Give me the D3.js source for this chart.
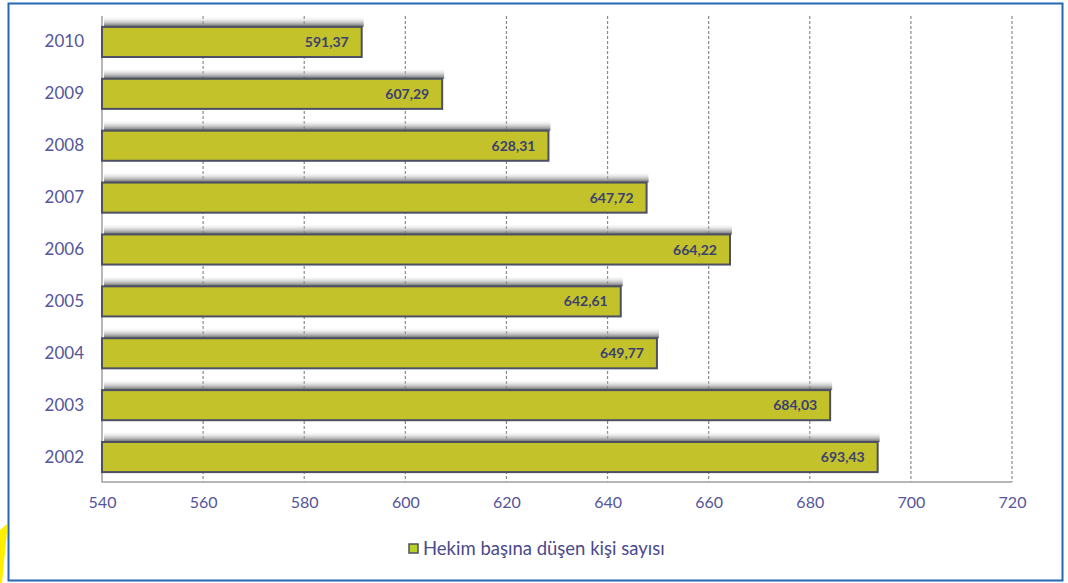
<!DOCTYPE html>
<html><head><meta charset="utf-8">
<script src="https://cdn.jsdelivr.net/npm/d3@7"></script>
<style>body{margin:0;background:#fff;}svg{display:block;}</style>
</head><body>
<script>
const years = ["2010","2009","2008","2007","2006","2005","2004","2003","2002"];
const values = [591.37,607.29,628.31,647.72,664.22,642.61,649.77,684.03,693.43];
const labels = ["591,37","607,29","628,31","647,72","664,22","642,61","649,77","684,03","693,43"];
const xTicks = [540,560,580,600,620,640,660,680,700,720];
const seriesName = "Hekim başına düşen kişi sayısı";

const W=1068,H=583;
const svg=d3.select("body").append("svg").attr("width",W).attr("height",H);
const font="Lato, 'Open Sans', sans-serif";
const labelColor="#55559a";

const defs=svg.append("defs");
const g1=defs.append("linearGradient").attr("id","shadow").attr("x1",0).attr("y1",0).attr("x2",0).attr("y2",1);
g1.append("stop").attr("offset","0%").attr("stop-color","#ffffff").attr("stop-opacity",0);
g1.append("stop").attr("offset","100%").attr("stop-color","#5f5f5f").attr("stop-opacity",1);

const x=d3.scaleLinear().domain([540,720]).range([102,1012]);
const y=d3.scaleBand().domain(years).range([16,483]).paddingInner(0.42).paddingOuter(0.21);

// frame
svg.append("rect").attr("x",8.5).attr("y",3.5).attr("width",1054).attr("height",577)
  .attr("fill","#fff").attr("stroke","#2566b5").attr("stroke-width",2);
svg.append("polygon").attr("points","7,524 7,532 2,583 0,583 0,530").attr("fill","#ffee00");

// grid
svg.append("g").selectAll("line").data(xTicks.slice(1)).join("line")
  .attr("x1",d=>x(d)).attr("x2",d=>x(d)).attr("y1",16).attr("y2",482)
  .attr("stroke","#8a8a8a").attr("stroke-width",1.2).attr("stroke-dasharray","3,2");
// plot floor/left wall
svg.append("path").attr("d",`M${x(540)},16V482H${x(720)}`).attr("fill","none")
  .attr("stroke","#a0a0a0").attr("stroke-width",1.5);

// bar shadows
const bw=y.bandwidth();
svg.append("g").selectAll("rect").data(years).join("rect")
  .attr("x",x(540)+2).attr("y",d=>y(d)-11).attr("width",(d,i)=>x(values[i])-x(540)).attr("height",11)
  .attr("fill","url(#shadow)");

// bars
svg.append("g").selectAll("rect").data(years).join("rect")
  .attr("x",x(540)).attr("y",d=>y(d)).attr("width",(d,i)=>x(values[i])-x(540)).attr("height",bw)
  .attr("fill","#c3c22a").attr("stroke","#4c5062").attr("stroke-width",2);

// value labels
svg.append("g").selectAll("text").data(years).join("text")
  .attr("x",(d,i)=>x(values[i])-13).attr("y",d=>y(d)+bw/2+5)
  .attr("text-anchor","end").attr("font-family",font).attr("font-weight","bold")
  .attr("font-size",14).attr("fill","#3b3f72").text((d,i)=>labels[i]);

// y axis labels
const yAxis=d3.axisLeft(y).tickSize(0).tickPadding(0);
const ga=svg.append("g").attr("transform",`translate(84,0)`).call(yAxis);
ga.select(".domain").remove();
ga.selectAll("text").attr("font-family",font).attr("font-size",17).attr("fill",labelColor);

// x axis labels
const xAxis=d3.axisBottom(x).tickValues(xTicks).tickSize(0).tickPadding(0).tickFormat(d3.format("d"));
const gx=svg.append("g").attr("transform",`translate(0,497)`).call(xAxis);
gx.select(".domain").remove();
gx.selectAll("text").attr("font-family",font).attr("font-size",16).attr("fill",labelColor);

// legend
svg.append("rect").attr("x",409).attr("y",544).attr("width",9).attr("height",9)
  .attr("fill","#b8d12a").attr("stroke","#4c5062").attr("stroke-width",1.5);
svg.append("text").attr("x",423).attr("y",555).attr("font-family",font).attr("font-size",18.5)
  .attr("fill","#4a4a8c").text(seriesName);
</script>
</body></html>
